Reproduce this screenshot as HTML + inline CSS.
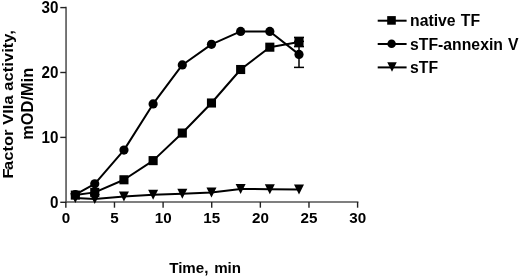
<!DOCTYPE html>
<html><head><meta charset="utf-8"><style>
html,body{margin:0;padding:0;background:#fff;}
body{width:520px;height:277px;overflow:hidden;font-family:"Liberation Sans",sans-serif;}
svg{display:block;will-change:transform;}
</style></head><body>
<svg width="520" height="277" viewBox="0 0 520 277">
<rect width="520" height="277" fill="#fff"/>
<g stroke="#555" stroke-width="1.6" fill="none">
<line x1="66.05" y1="6.80" x2="66.05" y2="203.10"/>
<line x1="65.3" y1="202.0" x2="358.40" y2="202.0"/>
</g>
<g stroke="#222" stroke-width="1.4" fill="none">
<line x1="60.3" y1="202.30" x2="66" y2="202.30"/>
<line x1="60.3" y1="137.40" x2="66" y2="137.40"/>
<line x1="60.3" y1="72.50" x2="66" y2="72.50"/>
<line x1="60.3" y1="7.60" x2="66" y2="7.60"/>
<line x1="65.85" y1="202" x2="65.85" y2="207.7"/>
<line x1="114.47" y1="202" x2="114.47" y2="207.7"/>
<line x1="163.10" y1="202" x2="163.10" y2="207.7"/>
<line x1="211.72" y1="202" x2="211.72" y2="207.7"/>
<line x1="260.35" y1="202" x2="260.35" y2="207.7"/>
<line x1="308.98" y1="202" x2="308.98" y2="207.7"/>
<line x1="357.60" y1="202" x2="357.60" y2="207.7"/>
</g>
<g font-family="Liberation Sans, sans-serif" font-weight="bold" font-size="16" fill="#000">
<text transform="translate(58.5,207.50) scale(0.95,0.985)" text-anchor="end">0</text>
<text transform="translate(58.5,142.60) scale(0.95,0.985)" text-anchor="end">10</text>
<text transform="translate(58.5,77.70) scale(0.95,0.985)" text-anchor="end">20</text>
<text transform="translate(58.5,12.80) scale(0.95,0.985)" text-anchor="end">30</text>
<text transform="translate(65.95,223.4) scale(0.95,0.97)" text-anchor="middle">0</text>
<text transform="translate(114.57,223.4) scale(0.95,0.97)" text-anchor="middle">5</text>
<text transform="translate(163.20,223.4) scale(0.95,0.97)" text-anchor="middle">10</text>
<text transform="translate(211.82,223.4) scale(0.95,0.97)" text-anchor="middle">15</text>
<text transform="translate(260.45,223.4) scale(0.95,0.97)" text-anchor="middle">20</text>
<text transform="translate(309.08,223.4) scale(0.95,0.97)" text-anchor="middle">25</text>
<text transform="translate(357.70,223.4) scale(0.95,0.97)" text-anchor="middle">30</text>
</g>
<g font-family="Liberation Sans, sans-serif" font-weight="bold" font-size="16" fill="#000">
<text transform="translate(13.4,104) rotate(-90) scale(1.03,0.955)" x="-72.32" letter-spacing="0.056"><tspan>F</tspan><tspan dx="-1.6">actor VIIa activity,</tspan></text>
<text transform="translate(32.7,103.8) rotate(-90) scale(1.025,0.975)" text-anchor="middle">mOD/Min</text>
<text transform="translate(205.1,273.4) scale(0.947,0.95)" text-anchor="middle" word-spacing="1.6">Time, min</text>
</g>
<g stroke="#000" stroke-width="1.5" fill="none">
<line x1="299.00" y1="41.39" x2="299.00" y2="67.39"/>
<line x1="294.00" y1="67.39" x2="304.00" y2="67.39"/>
<line x1="294.00" y1="41.39" x2="304.00" y2="41.39"/>
<line x1="299.00" y1="37.40" x2="299.00" y2="46.60"/>
<line x1="294.00" y1="37.40" x2="304.00" y2="37.40"/>
<line x1="294.00" y1="46.60" x2="304.00" y2="46.60"/>
</g>
<g stroke="#000" stroke-width="2.0" fill="none" stroke-linejoin="round">
<polyline points="75.32,195.10 94.77,192.37 123.95,179.78 153.12,160.63 182.30,133.05 211.47,103.00 240.65,69.51 269.82,47.19 299.00,42.00"/>
<polyline points="75.32,194.51 94.77,183.80 123.95,150.12 153.12,103.91 182.30,64.97 211.47,44.33 240.65,31.42 269.82,31.42 299.00,54.39"/>
<polyline points="75.32,197.95 94.77,198.99 123.95,196.46 153.12,194.64 182.30,193.73 211.47,192.56 240.65,189.06 269.82,189.13 299.00,189.58"/>
</g>
<g fill="#000">
<path d="M70.32,192.95 L80.32,192.95 L75.32,202.95 Z"/>
<path d="M89.77,193.99 L99.77,193.99 L94.77,203.99 Z"/>
<path d="M118.95,191.46 L128.95,191.46 L123.95,201.46 Z"/>
<path d="M148.12,189.64 L158.12,189.64 L153.12,199.64 Z"/>
<path d="M177.30,188.73 L187.30,188.73 L182.30,198.73 Z"/>
<path d="M206.47,187.56 L216.47,187.56 L211.47,197.56 Z"/>
<path d="M235.65,184.06 L245.65,184.06 L240.65,194.06 Z"/>
<path d="M264.82,184.13 L274.82,184.13 L269.82,194.13 Z"/>
<path d="M294.00,184.58 L304.00,184.58 L299.00,194.58 Z"/>
<circle cx="75.32" cy="194.51" r="4.6"/>
<circle cx="94.77" cy="183.80" r="4.6"/>
<circle cx="123.95" cy="150.12" r="4.6"/>
<circle cx="153.12" cy="103.91" r="4.6"/>
<circle cx="182.30" cy="64.97" r="4.6"/>
<circle cx="211.47" cy="44.33" r="4.6"/>
<circle cx="240.65" cy="31.42" r="4.6"/>
<circle cx="269.82" cy="31.42" r="4.6"/>
<circle cx="299.00" cy="54.39" r="4.6"/>
<rect x="70.77" y="190.55" width="9.1" height="9.1"/>
<rect x="90.22" y="187.82" width="9.1" height="9.1"/>
<rect x="119.40" y="175.23" width="9.1" height="9.1"/>
<rect x="148.57" y="156.08" width="9.1" height="9.1"/>
<rect x="177.75" y="128.50" width="9.1" height="9.1"/>
<rect x="206.92" y="98.45" width="9.1" height="9.1"/>
<rect x="236.10" y="64.96" width="9.1" height="9.1"/>
<rect x="265.27" y="42.64" width="9.1" height="9.1"/>
<rect x="294.45" y="37.45" width="9.1" height="9.1"/>
</g>
<g stroke="#000" stroke-width="2.0">
<line x1="377.7" y1="20.7" x2="406.6" y2="20.7"/>
<line x1="377.7" y1="44.0" x2="406.6" y2="44.0"/>
<line x1="377.7" y1="67.4" x2="406.6" y2="67.4"/>
</g><g fill="#000">
<rect x="387.20" y="16.10" width="8.6" height="8.6"/>
<circle cx="391.60" cy="43.75" r="4.25"/>
<path d="M387.25,62.25 L396.75,62.25 L392.00,71.75 Z"/>
</g>
<g font-family="Liberation Sans, sans-serif" font-weight="bold" font-size="16" fill="#000">
<text transform="translate(410.1,26.20) scale(0.985,1)" word-spacing="0.8">native TF</text>
<text transform="translate(410.1,49.50) scale(0.985,1)" word-spacing="0.8">sTF-annexin V</text>
<text transform="translate(410.1,72.90) scale(0.985,1)" word-spacing="0.8">sTF</text>
</g>
</svg>
</body></html>
